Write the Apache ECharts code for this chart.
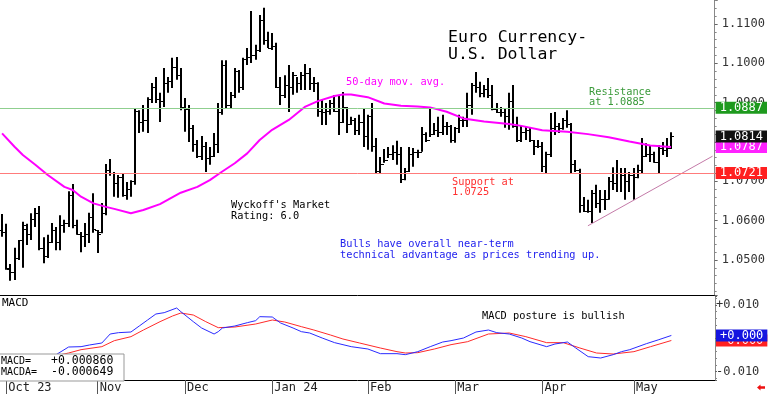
<!DOCTYPE html>
<html><head><meta charset="utf-8">
<script src="https://cdn.jsdelivr.net/npm/echarts@6/dist/echarts.min.js"></script>
<style>html,body{margin:0;padding:0;background:#fff}#c{width:768px;height:394px}</style>
</head><body><div id="c"></div>
<script>
// ---- data ----
const monthStarts = [1,23,44,65,88,109,130,152];
const monthLabels = ['Oct 23','Nov','Dec','Jan 24','Feb','Mar','Apr','May'];
const slotCount = 172; // bar slots across the price panel (last ones empty)

const opens = [1.0575,1.0570,1.0478,1.0470,1.0505,1.0550,1.0580,1.0565,1.0605,1.0620,
1.0530,1.0510,1.0545,1.0575,1.0545,1.0590,1.0595,1.0665,1.0590,1.0565,
1.0560,1.0565,1.0610,1.0575,1.0570,1.0620,1.0730,1.0720,1.0695,1.0710,
1.0665,1.0680,1.0700,1.0880,1.0850,1.0855,1.0910,1.0940,1.0910,1.0905,
1.0950,1.0955,1.0990,1.0970,1.0890,1.0885,1.0835,1.0795,1.0765,1.0790,
1.0760,1.0765,1.0795,1.0875,1.0995,1.0895,1.0920,1.0980,1.0940,1.1010,
1.1015,1.1020,1.1035,1.1110,1.1060,1.1040,1.1045,1.0940,1.0920,1.0945,
1.0940,1.0970,1.0950,1.0970,1.0975,1.0950,1.0950,1.0880,1.0875,1.0880,
1.0900,1.0880,1.0850,1.0890,1.0845,1.0855,1.0830,1.0850,1.0815,1.0865,
1.0790,1.0725,1.0745,1.0755,1.0770,1.0775,1.0770,1.0705,1.0725,1.0770,
1.0775,1.0775,1.0820,1.0805,1.0820,1.0830,1.0825,1.0840,1.0840,1.0805,
1.0835,1.0855,1.0855,1.0895,1.0945,1.0940,1.0925,1.0935,1.0920,1.0885,
1.0875,1.0875,1.0865,1.0905,1.0840,1.0805,1.0825,1.0830,1.0805,1.0790,
1.0790,1.0740,1.0770,1.0835,1.0840,1.0835,1.0855,1.0845,1.0745,1.0730,
1.0640,1.0625,1.0625,1.0670,1.0645,1.0655,1.0655,1.0700,1.0695,1.0720,
1.0715,1.0700,1.0715,1.0710,1.0730,1.0765,1.0770,1.0770,1.0750,1.0785,
1.0780,1.0785];
const highs = [1.0617,1.0592,1.0490,1.0531,1.0551,1.0597,1.0592,1.0619,1.0632,1.0637,
1.0558,1.0564,1.0594,1.0584,1.0614,1.0602,1.0675,1.0693,1.0602,1.0571,
1.0594,1.0620,1.0670,1.0576,1.0645,1.0744,1.0757,1.0724,1.0716,1.0721,
1.0698,1.0703,1.0886,1.0881,1.0894,1.0914,1.0950,1.0965,1.0925,1.0988,
1.0965,1.1014,1.1016,1.0988,1.0912,1.0894,1.0843,1.0805,1.0815,1.0800,
1.0787,1.0823,1.0899,1.1008,1.1008,1.0927,1.0988,1.0983,1.1014,1.1039,
1.1133,1.1047,1.1123,1.1141,1.1080,1.1077,1.1052,1.0965,1.0970,1.0996,
1.0978,1.0965,1.0978,1.0998,1.0988,1.0965,1.0952,1.0907,1.0899,1.0907,
1.0919,1.0919,1.0927,1.0889,1.0864,1.0861,1.0869,1.0886,1.0869,1.0899,
1.0810,1.0762,1.0782,1.0787,1.0792,1.0803,1.0787,1.0734,1.0787,1.0785,
1.0780,1.0838,1.0825,1.0889,1.0848,1.0864,1.0869,1.0851,1.0843,1.0838,
1.0869,1.0864,1.0925,1.0950,1.0978,1.0953,1.0945,1.0963,1.0945,1.0899,
1.0889,1.0886,1.0925,1.0945,1.0864,1.0843,1.0838,1.0836,1.0805,1.0805,
1.0800,1.0775,1.0874,1.0876,1.0848,1.0861,1.0881,1.0848,1.0754,1.0732,
1.0660,1.0653,1.0678,1.0691,1.0678,1.0678,1.0711,1.0736,1.0754,1.0734,
1.0734,1.0724,1.0734,1.0742,1.0810,1.0797,1.0792,1.0775,1.0792,1.0800,
1.0810,1.0825];
const lows = [1.0559,1.0475,1.0447,1.0449,1.0500,1.0480,1.0538,1.0551,1.0584,1.0525,
1.0492,1.0505,1.0543,1.0525,1.0525,1.0569,1.0584,1.0581,1.0564,1.0520,
1.0533,1.0543,1.0569,1.0518,1.0568,1.0614,1.0714,1.0661,1.0658,1.0661,
1.0653,1.0661,1.0691,1.0823,1.0826,1.0823,1.0899,1.0899,1.0851,1.0889,
1.0925,1.0937,1.0958,1.0881,1.0826,1.0800,1.0775,1.0759,1.0754,1.0724,
1.0742,1.0762,1.0772,1.0869,1.0886,1.0886,1.0912,1.0925,1.0932,1.0996,
1.1001,1.1009,1.1029,1.1047,1.1039,1.1034,1.0937,1.0894,1.0912,1.0876,
1.0920,1.0925,1.0932,1.0932,1.0932,1.0927,1.0864,1.0843,1.0843,1.0869,
1.0876,1.0818,1.0848,1.0823,1.0843,1.0818,1.0818,1.0787,1.0780,1.0775,
1.0721,1.0721,1.0747,1.0759,1.0754,1.0742,1.0696,1.0703,1.0724,1.0737,
1.0759,1.0775,1.0800,1.0813,1.0818,1.0813,1.0818,1.0818,1.0798,1.0798,
1.0823,1.0838,1.0838,1.0869,1.0925,1.0914,1.0914,1.0912,1.0881,1.0874,
1.0864,1.0836,1.0831,1.0836,1.0800,1.0800,1.0805,1.0800,1.0767,1.0785,
1.0724,1.0721,1.0762,1.0818,1.0823,1.0831,1.0836,1.0721,1.0724,1.0620,
1.0622,1.0620,1.0594,1.0632,1.0620,1.0627,1.0653,1.0678,1.0673,1.0673,
1.0653,1.0673,1.0653,1.0708,1.0721,1.0762,1.0749,1.0747,1.0721,1.0767,
1.0762,1.0782];
const closes = [1.0570,1.0480,1.0470,1.0505,1.0550,1.0588,1.0565,1.0605,1.0620,1.0530,
1.0510,1.0545,1.0575,1.0545,1.0590,1.0595,1.0665,1.0590,1.0565,1.0560,
1.0565,1.0610,1.0580,1.0565,1.0620,1.0730,1.0720,1.0695,1.0710,1.0665,
1.0680,1.0700,1.0880,1.0850,1.0855,1.0910,1.0940,1.0910,1.0905,1.0950,
1.0955,1.0990,1.0970,1.0890,1.0885,1.0835,1.0795,1.0765,1.0790,1.0760,
1.0765,1.0795,1.0875,1.0995,1.0895,1.0920,1.0980,1.0940,1.1010,1.1015,
1.1020,1.1035,1.1110,1.1060,1.1040,1.1045,1.0940,1.0920,1.0945,1.0940,
1.0970,1.0950,1.0970,1.0975,1.0950,1.0950,1.0880,1.0875,1.0880,1.0900,
1.0880,1.0850,1.0890,1.0845,1.0855,1.0830,1.0850,1.0815,1.0865,1.0790,
1.0725,1.0745,1.0755,1.0770,1.0775,1.0770,1.0705,1.0725,1.0770,1.0775,
1.0775,1.0820,1.0805,1.0820,1.0830,1.0825,1.0840,1.0840,1.0805,1.0835,
1.0855,1.0855,1.0895,1.0945,1.0940,1.0925,1.0935,1.0920,1.0885,1.0875,
1.0875,1.0865,1.0905,1.0840,1.0805,1.0825,1.0830,1.0805,1.0790,1.0790,
1.0740,1.0770,1.0835,1.0840,1.0835,1.0855,1.0845,1.0745,1.0730,1.0640,
1.0625,1.0625,1.0670,1.0645,1.0655,1.0655,1.0700,1.0695,1.0720,1.0715,
1.0700,1.0715,1.0710,1.0730,1.0765,1.0770,1.0770,1.0750,1.0785,1.0780,
1.0785,1.0814];

// 50-day moving average, read at bar positions
const maIdx = [0,3,5,8,11,15,17,19,22,25,27,31,34,38,43,47,50,53,56,59,62,65,69,73,76,80,82,84,88,92,96,100,103,107,111,116,122,125,130,136,141,146,151,156,161];
const maVal = [1.0822,1.0788,1.0767,1.0742,1.0716,1.0686,1.0678,1.0661,1.0644,1.0635,1.0630,1.0619,1.0627,1.0642,1.0671,1.0686,1.0703,1.0725,1.0746,1.0771,1.0805,1.0831,1.0856,1.0890,1.0904,1.0917,1.0921,1.0921,1.0914,1.0898,1.0892,1.0890,1.0888,1.0877,1.0860,1.0852,1.0846,1.0841,1.0830,1.0826,1.0820,1.0812,1.0801,1.0791,1.0787];

// MACD (blue) and MACD average (red), read at bar positions
const macdIdx = [0,3,7,10,13,16,19,21,24,26,28,31,33,35,37,39,42,43,46,48,51,52,53,56,59,61,62,65,67,70,72,74,77,80,84,88,91,95,97,100,103,106,108,111,114,117,119,122,125,127,131,133,136,138,141,144,147,149,151,155,158,161];
const macdVal = [-0.0080,-0.0088,-0.0075,-0.0062,-0.0049,-0.0026,-0.0025,-0.0020,-0.0014,0.0013,0.0017,0.0019,0.0037,0.0055,0.0073,0.0077,0.0091,0.0080,0.0050,0.0031,0.0013,0.0020,0.0031,0.0037,0.0047,0.0053,0.0065,0.0064,0.0046,0.0031,0.0020,0.0016,0.0001,-0.0013,-0.0025,-0.0032,-0.0046,-0.0046,-0.0049,-0.0040,-0.0025,-0.0011,-0.0007,0.0001,0.0019,0.0025,0.0017,0.0013,0.0001,-0.0010,-0.0025,-0.0017,-0.0011,-0.0029,-0.0055,-0.0059,-0.0049,-0.0040,-0.0034,-0.0016,-0.0004,0.00086];
const avgIdx = [0,5,10,13,16,19,24,27,31,34,38,41,43,46,49,52,56,61,65,68,72,75,79,82,86,91,95,97,100,104,108,112,117,122,126,131,135,139,143,147,152,156,161];
const avgVal = [-0.0070,-0.0072,-0.0060,-0.0052,-0.0044,-0.0034,-0.0025,-0.0007,0.0005,0.0025,0.0050,0.0067,0.0076,0.0070,0.0050,0.0032,0.0034,0.0043,0.0055,0.0049,0.0035,0.0025,0.0010,-0.0002,-0.0014,-0.0029,-0.0040,-0.0044,-0.0043,-0.0032,-0.0019,-0.0010,0.0013,0.0016,0.0005,-0.0013,-0.0013,-0.0029,-0.0044,-0.0047,-0.0040,-0.0025,-0.000649];

const resistanceLevel = 1.0887;
const supportLevel = 1.0721;
const lastClose = 1.0814;
const maLast = 1.0787;
const trendStart = [141, 1.0587];
const trendEnd = [171, 1.0764];
const macdLast = 0.00086;
const macdAvgLast = -0.000649;

// ---- chart ----
const MONO = '"DejaVu Sans Mono", "Liberation Mono", monospace';
const CLEAR = 'rgba(0,0,0,0)';
const cats = Array.from({length: slotCount}, (_, i) => String(i));
const ohlc = highs.map((h, i) => [i, opens[i], closes[i], lows[i], h]);
const pairs = (ix, vals) => ix.map((x, k) => [x, vals[k]]);
const isMonth = (i) => monthStarts.indexOf(i) >= 0;

function renderOHLC(params, api) {
  const i = api.value(0);
  const o = api.coord([i, api.value(1)]);
  const c = api.coord([i, api.value(2)]);
  const l = api.coord([i, api.value(3)]);
  const h = api.coord([i, api.value(4)]);
  const x = Math.round(h[0]);
  const st = {stroke: '#000', lineWidth: 1};
  return {type: 'group', children: [
    {type: 'line', shape: {x1: x, y1: h[1], x2: x, y2: l[1]}, style: {stroke: '#000', lineWidth: 2}},
    {type: 'line', shape: {x1: x - 3, y1: Math.round(o[1]) + 0.5, x2: x, y2: Math.round(o[1]) + 0.5}, style: st},
    {type: 'line', shape: {x1: x, y1: Math.round(c[1]) + 0.5, x2: x + 3, y2: Math.round(c[1]) + 0.5}, style: st}
  ]};
}

function boxLabel(bg, text, fg) {
  return {show: true, position: 'end', distance: 1, formatter: text, color: fg || '#fff',
    backgroundColor: bg, padding: [1, 4, 0, 4], fontFamily: MONO, fontSize: 12, lineHeight: 11};
}

function txt(x, y, text, color, size, lh) {
  return {type: 'text', x: x, y: y, z: 50, style: {text: text, fill: color,
    font: size + 'px ' + MONO, verticalAlign: 'middle', lineHeight: lh || size}};
}

const chart = echarts.init(document.getElementById('c'), null, {renderer: 'canvas'});
chart.setOption({
  animation: false,
  backgroundColor: '#fff',
  grid: [
    {left: 0, top: 0, width: 715, height: 295},
    {left: 0, top: 296, width: 715, height: 84}
  ],
  xAxis: [
    {type: 'category', gridIndex: 0, data: cats, boundaryGap: true,
      axisLine: {show: true, onZero: false, lineStyle: {color: '#000', width: 1}},
      axisTick: {show: false}, axisLabel: {show: false}, splitLine: {show: false}},
    {type: 'category', gridIndex: 1, data: cats, boundaryGap: true,
      axisLine: {show: true, onZero: false, lineStyle: {color: '#000', width: 1}},
      axisTick: {show: true, alignWithLabel: true, interval: (i) => isMonth(i), length: 14,
        lineStyle: {color: '#555', width: 1}},
      axisLabel: {show: true, interval: (i) => isMonth(i),
        formatter: (v, i) => monthLabels[monthStarts.indexOf(Number(v))] || '',
        align: 'left', padding: [0, 0, 0, 2], margin: 2, color: '#222',
        fontFamily: MONO, fontSize: 12},
      splitLine: {show: false}}
  ],
  yAxis: [
    {type: 'value', gridIndex: 0, position: 'right', min: 1.0411, max: 1.1161, splitNumber: 7,
      axisLine: {show: true, lineStyle: {color: '#888'}},
      axisTick: {show: true, length: 3, lineStyle: {color: '#666'}},
      minorTick: {show: true, splitNumber: 5, length: 2, lineStyle: {color: '#888'}},
      axisLabel: {show: true, showMinLabel: false, showMaxLabel: false, margin: 7,
        formatter: (v) => v.toFixed(4), color: '#333', fontFamily: MONO, fontSize: 12},
      splitLine: {show: false}},
    {type: 'value', gridIndex: 1, position: 'right', min: -0.0125, max: 0.0127, splitNumber: 2,
      axisLine: {show: true, lineStyle: {color: '#888'}},
      axisTick: {show: true, length: 2, lineStyle: {color: '#666'}},
      minorTick: {show: true, splitNumber: 5, length: 2, lineStyle: {color: '#888'}},
      axisLabel: {show: true, showMinLabel: false, showMaxLabel: false, margin: 1,
        formatter: (v) => (v >= 0 ? '+' : '') + v.toFixed(3), color: '#333', fontFamily: MONO, fontSize: 12},
      splitLine: {show: false}}
  ],
  series: [
    {type: 'line', xAxisIndex: 0, yAxisIndex: 0, data: [], silent: true,
      markLine: {symbol: ['none', 'none'], silent: true, animation: false, precision: 6,
        data: [
          [{coord: trendStart}, {coord: trendEnd}]
        ],
        lineStyle: {color: '#c47aa8', width: 1, type: 'solid'}, label: {show: false}}},
    {type: 'custom', name: 'price', xAxisIndex: 0, yAxisIndex: 0, renderItem: renderOHLC,
      encode: {x: 0, y: [1, 2, 3, 4]}, data: ohlc, silent: true, z: 3},
    {type: 'line', name: 'ma', xAxisIndex: 0, yAxisIndex: 0, data: pairs(maIdx, maVal),
      showSymbol: false, smooth: false, lineStyle: {color: '#ff00ff', width: 2}, silent: true, z: 4,
      markLine: {symbol: ['none', 'none'], silent: true, animation: false, precision: 6,
        data: [
          {yAxis: resistanceLevel, lineStyle: {color: '#8fcf8f', width: 1, type: 'solid'},
            label: boxLabel('#1e9a1e', resistanceLevel.toFixed(4))},
          {yAxis: supportLevel, lineStyle: {color: '#ff7b7b', width: 1, type: 'solid'},
            label: boxLabel('#ff2020', supportLevel.toFixed(4))},
          {yAxis: maLast, lineStyle: {color: CLEAR, width: 1},
            label: boxLabel('#ff22ff', maLast.toFixed(4))},
          {yAxis: lastClose, lineStyle: {color: CLEAR, width: 1},
            label: boxLabel('#111111', lastClose.toFixed(4))}
        ]}},
    {type: 'line', name: 'macda', xAxisIndex: 1, yAxisIndex: 1, data: pairs(avgIdx, avgVal),
      showSymbol: false, lineStyle: {color: '#ff2a2a', width: 1}, silent: true,
      markLine: {symbol: ['none', 'none'], silent: true, animation: false, precision: 6,
        data: [{yAxis: macdAvgLast, lineStyle: {color: CLEAR, width: 1}, label: boxLabel('#ff2020', '-0.000')}]}},
    {type: 'line', name: 'macd', xAxisIndex: 1, yAxisIndex: 1, data: pairs(macdIdx, macdVal),
      showSymbol: false, lineStyle: {color: '#2a2aff', width: 1}, silent: true,
      markLine: {symbol: ['none', 'none'], silent: true, animation: false, precision: 6,
        data: [{yAxis: macdLast, lineStyle: {color: CLEAR, width: 1}, label: boxLabel('#1515e0', '+0.000')}]}}
  ],
  graphic: [
    txt(448, 38, 'Euro Currency-', '#000', 16.5),
    txt(448, 55, 'U.S. Dollar', '#000', 16.5),
    txt(346, 82, '50-day mov. avg.', '#ff00ff', 10.3),
    txt(589, 97, 'Resistance\nat 1.0885', '#3a9a3a', 10.3, 10.2),
    txt(452, 187, 'Support at\n1.0725', '#ff3030', 10.3, 10.2),
    txt(231, 211, "Wyckoff's Market\nRating: 6.0", '#000', 10.3, 10.6),
    txt(340, 249.5, 'Bulls have overall near-term\ntechnical advantage as prices trending up.', '#2222ee', 10.3, 10.8),
    txt(482, 316, 'MACD posture is bullish', '#000', 10.3),
    txt(2, 303, 'MACD', '#000', 11),
    {type: 'rect', z: 40, shape: {x: -1, y: 354, width: 125, height: 27}, style: {fill: '#fff', stroke: '#999', lineWidth: 1}},
    txt(1, 361, 'MACD=', '#000', 10),
    txt(51, 361, '+0.000860', '#000', 11.5),
    txt(1, 372.5, 'MACDA=', '#000', 10),
    txt(51, 372.5, '-0.000649', '#000', 11.5),
    {type: 'polygon', z: 50, shape: {points: [[757, 387.5], [760.5, 384.5], [760.5, 386.3], [765, 386.3], [765, 388.7], [760.5, 388.7], [760.5, 390.5]]}, style: {fill: '#ee1111'}}
  ]
});
</script></body></html>
